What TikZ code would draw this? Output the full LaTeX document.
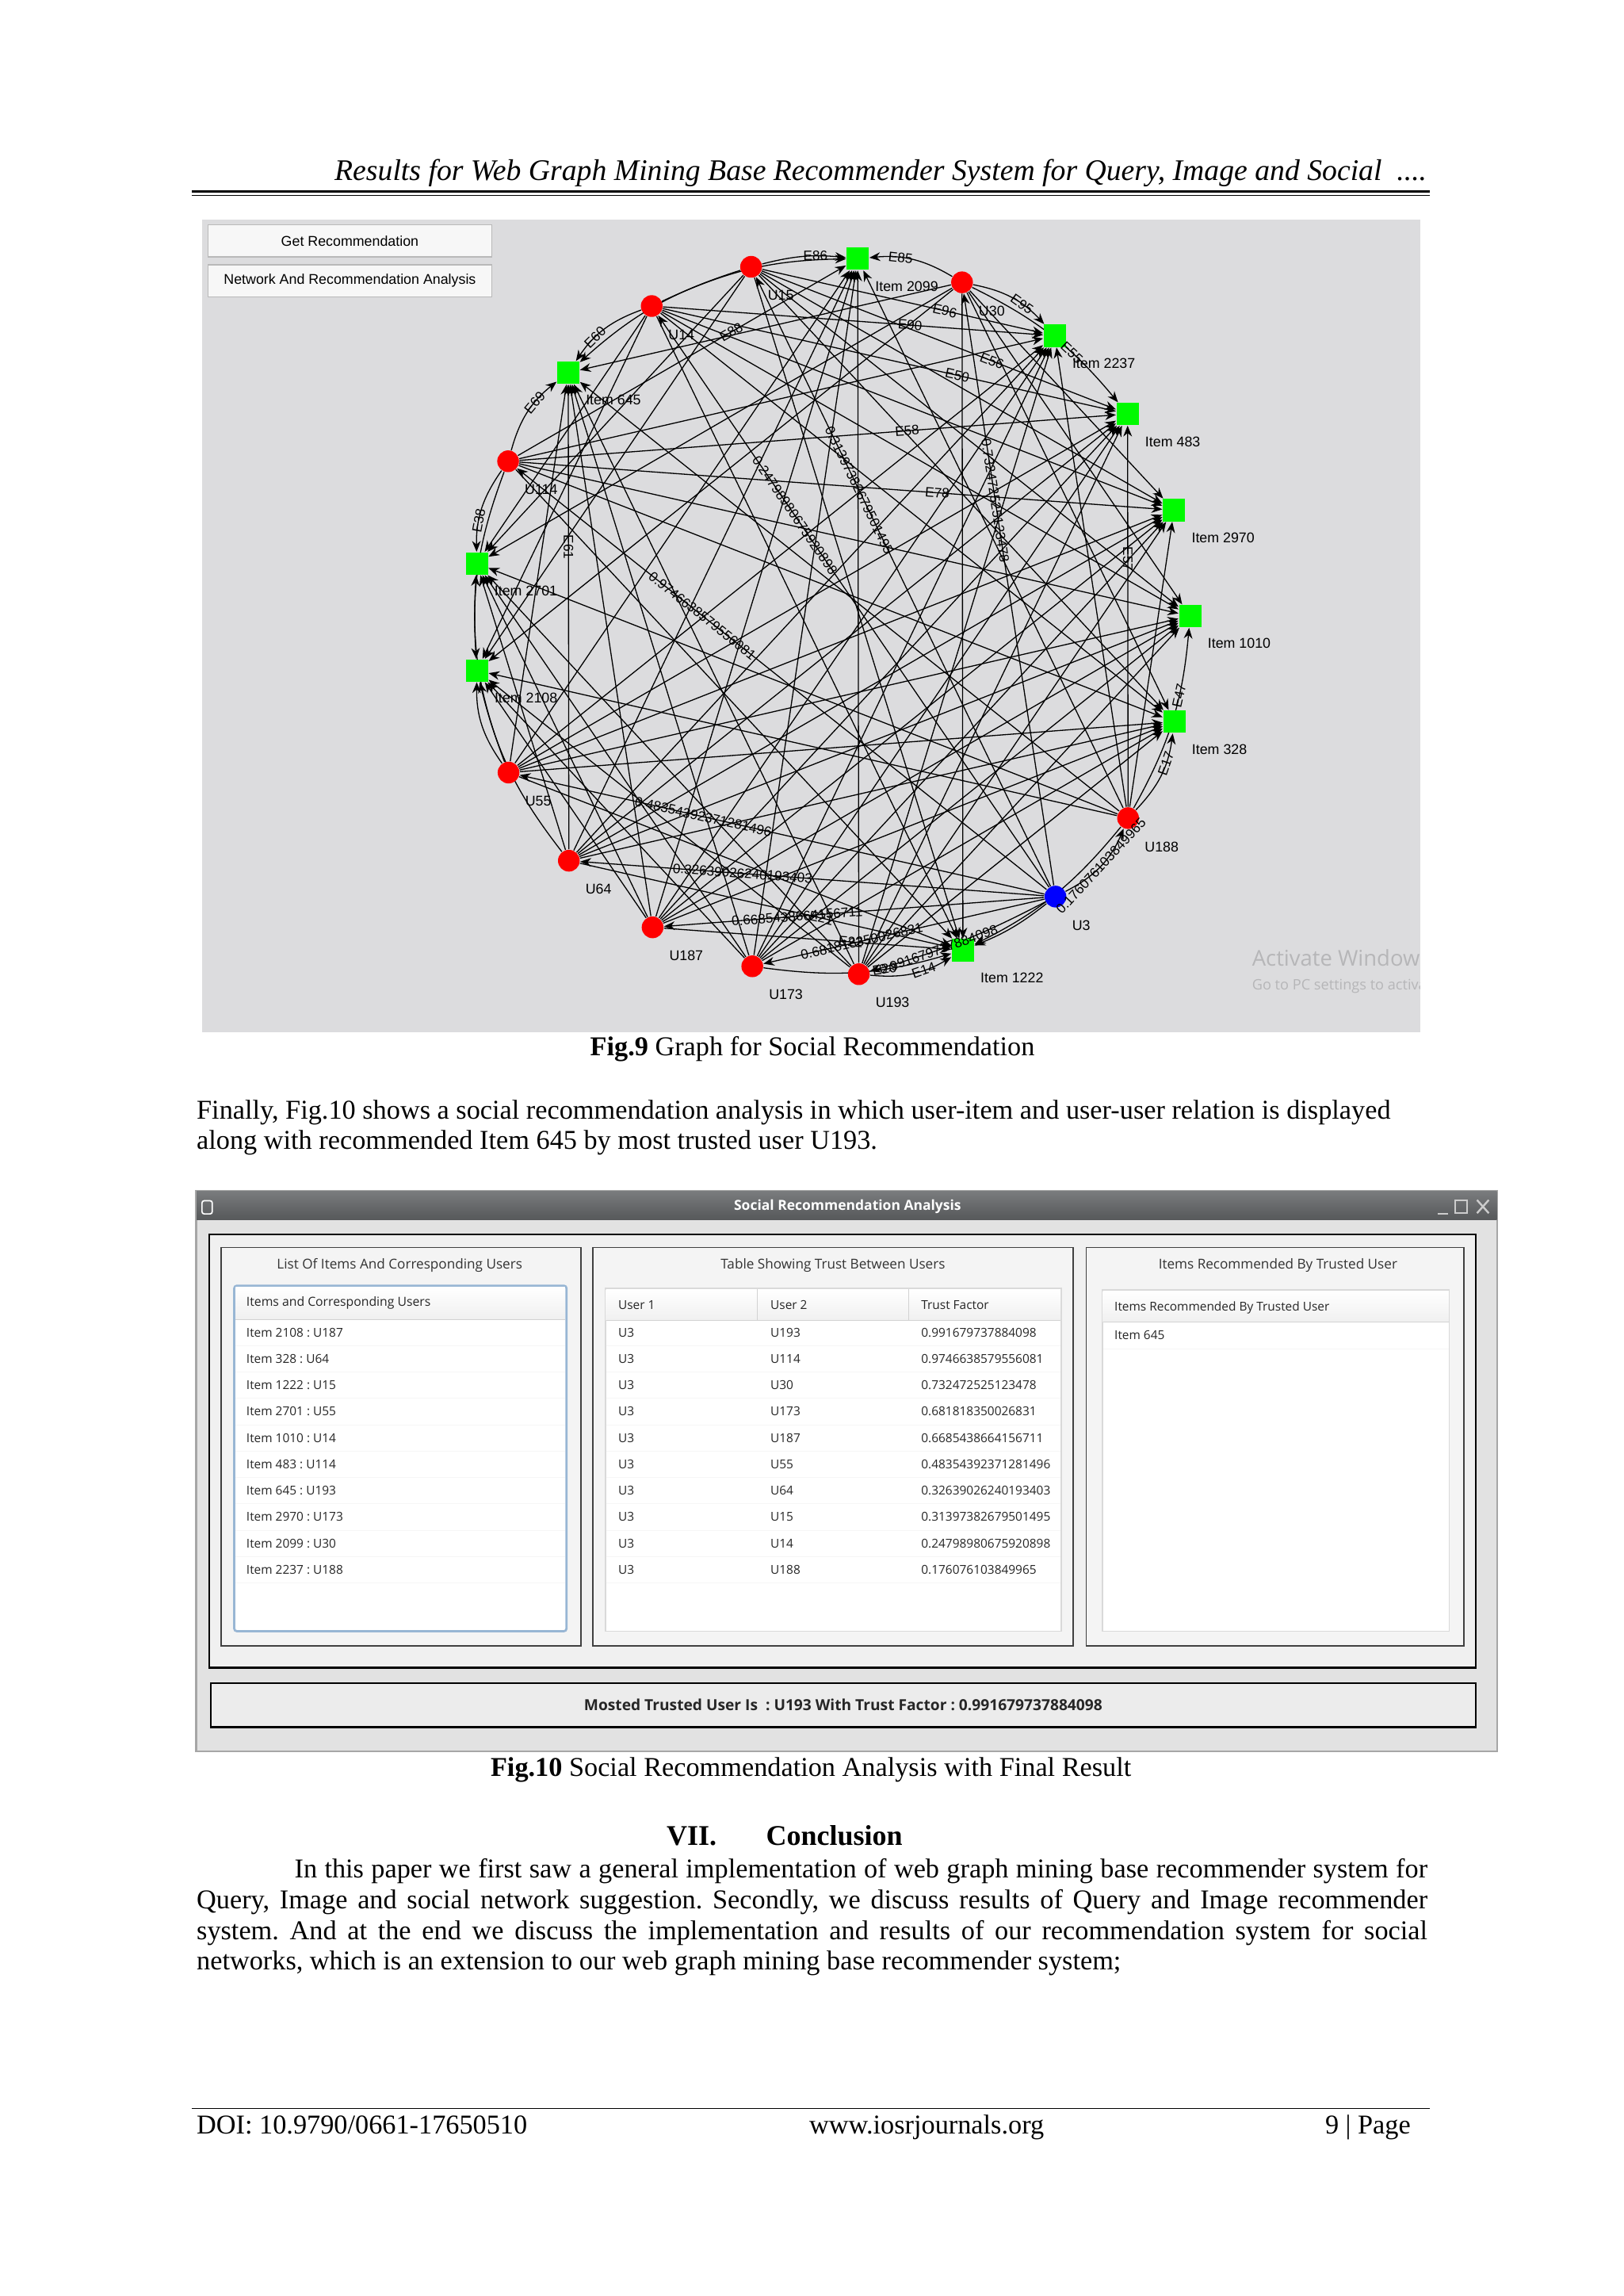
\documentclass[tikz,border=0pt]{standalone}
\usepackage{fontspec}
\setmainfont{Liberation Serif}
\newfontfamily\graphfont{Liberation Sans}
\newfontfamily\guifont{Open Sans}
\usepackage{tikz}
\usetikzlibrary{positioning,arrows.meta,backgrounds}
\usepackage{xcolor}
\definecolor{panelgray}{RGB}{220,220,222}
\definecolor{itemgreen}{RGB}{0,250,0}
\definecolor{titledark}{RGB}{86,88,90}
\definecolor{titlelight}{RGB}{122,124,126}
\definecolor{winbody}{RGB}{226,226,226}
\definecolor{listblue}{RGB}{152,182,212}
\definecolor{watermark}{RGB}{182,182,184}
\pgfdeclarelayer{edgelayer}
\pgfsetlayers{background,edgelayer,main}
\frenchspacing

\begin{document}
\begin{tikzpicture}[x=0.018936cm, y=-0.018936cm,
  user/.style={circle, fill=red, minimum size=8pt, inner sep=0pt,
               label distance=4.5pt},
  seed/.style={user, fill=blue},
  item/.style={rectangle, fill=itemgreen, minimum size=8.2pt, inner sep=0pt,
               label distance=3.5pt},
  nlab/.style={font=\graphfont\fontsize{5.2}{6}\selectfont, inner sep=0.5pt},
  ulab/.style={nlab, xshift=2.5pt, yshift=-5pt},
  ilab/.style={nlab, xshift=1.5pt, yshift=-3.3pt},
  elab/.style={font=\graphfont\fontsize{5}{6}\selectfont, inner sep=0.3pt,
               sloped, pos=0.65},
  link/.style={line width=0.38pt, -{Stealth[length=4pt,width=3.2pt]}},
  btn/.style={draw=gray!55, fill=gray!6, minimum width=104.5pt,
              minimum height=11.8pt, inner sep=0pt,
              font=\graphfont\fontsize{5.2}{6}\selectfont},
  body/.style={font=\fontsize{10}{11.3}\selectfont, inner sep=0pt},
  guihead/.style={font=\guifont\fontsize{5}{6}\selectfont, text=black!80,
                  inner sep=0pt},
  cell/.style={font=\guifont\fontsize{4.5}{5.5}\selectfont, text=black!85,
               anchor=west, inner sep=0pt},
  ]
  \useasboundingbox (0,0) rectangle (1109,1568);
  \begin{scope}[on background layer]
    \fill[white] (0,0) rectangle (1109,1568);
    \fill[panelgray] (138,150) rectangle (970,705);
  \end{scope}

  % running head
  \node[anchor=base east, font=\fontsize{11}{13}\selectfont\itshape, inner sep=0pt]
    (runhead) at (975,123)
    {Results for Web Graph Mining Base Recommender System for Query, Image and Social \ ....};
  \draw[line width=1pt] (131,130.6) -- (977,130.6);
  \draw[line width=0.35pt] (131,133.4) -- (977,133.4);

  % Fig.9 : graph window
  \node[btn] (getrec) at (239,164.4) {Get Recommendation};
  \node[btn] (netana) at (239,191.8) {Network And Recommendation Analysis};

  \node[item, label={[ilab]below right:Item 2099}] (i2099) at (585.9,176.7) {};
  \node[user, label={[ulab]below right:U30}]       (u30)   at (657.2,192.8) {};
  \node[item, label={[ilab]below right:Item 2237}] (i2237) at (720.5,229.3) {};
  \node[item, label={[ilab]below right:Item 483}]  (i483)  at (770.3,282.7) {};
  \node[item, label={[ilab]below right:Item 2970}] (i2970) at (802.0,348.4) {};
  \node[item, label={[ilab]below right:Item 1010}] (i1010) at (813.0,420.7) {};
  \node[item, label={[ilab]below right:Item 328}]  (i328)  at (802.2,492.9) {};
  \node[user, label={[ulab]below right:U188}]      (u188)  at (770.6,558.7) {};
  \node[seed, label={[ulab]below right:U3}]        (u3)    at (721.0,612.3) {};
  \node[item, label={[ilab]below right:Item 1222}] (i1222) at (657.8,648.9) {};
  \node[user, label={[ulab]below right:U193}]      (u193)  at (586.7,665.3) {};
  \node[user, label={[ulab]below right:U173}]      (u173)  at (513.9,659.9) {};
  \node[user, label={[ulab]below right:U187}]      (u187)  at (445.8,633.3) {};
  \node[user, label={[ulab]below right:U64}]       (u64)   at (388.6,587.8) {};
  \node[user, label={[ulab]below right:U55}]       (u55)   at (347.4,527.6) {};
  \node[item, label={[ilab]below right:Item 2108}] (i2108) at (325.8,457.9) {};
  \node[item, label={[ilab]below right:Item 2701}] (i2701) at (325.7,384.8) {};
  \node[user, label={[ulab]below right:U114}]      (u114)  at (347.1,315.0) {};
  \node[item, label={[ilab]below right:Item 645}]  (i645)  at (388.2,254.5) {};
  \node[user, label={[ulab]below right:U14}]       (u14)   at (445.2,209.0) {};
  \node[user, label={[ulab]below right:U15}]       (u15)   at (513.1,182.2) {};

  \begin{pgfonlayer}{edgelayer}
    % user -> item
    \foreach \i in {i2970,i1010,i328,i1222,i2108,i2701,i645} \draw[link] (u30) -- (\i);
    \draw[link] (u30) to[bend right=18] (i2099);
    \draw[link] (u30) to[bend left=18] (i2237);
    \draw[link] (u30) to[bend left=12] (i483);
    \foreach \i in {i2099,i2237,i483,i2970,i2108,i2701,i645} \draw[link] (u188) -- (\i);
    \draw[link] (u188) to[bend right=18] (i328);
    \draw[link] (u188) to[bend right=12] (i1010);
    \draw[link] (u188) to[bend left=12] (i1222);
    \foreach \i in {i2099,i2237,i483,i2970,i1010,i328,i2108,i2701,i645} \draw[link] (u193) -- (\i);
    \draw[link] (u193) to[bend right=18] (i1222);
    \foreach \i in {i2099,i2237,i483,i2970,i1010,i328,i2108,i2701,i645} \draw[link] (u173) -- (\i);
    \draw[link] (u173) to[bend right=12] (i1222);
    \foreach \i in {i2099,i2237,i483,i2970,i1010,i328,i1222,i2108,i2701,i645} \draw[link] (u187) -- (\i);
    \foreach \i in {i2099,i2237,i483,i2970,i1010,i328,i1222,i2701,i645} \draw[link] (u64) -- (\i);
    \draw[link] (u64) to[bend left=12] (i2108);
    \foreach \i in {i2099,i2237,i483,i2970,i1010,i328,i1222,i645} \draw[link] (u55) -- (\i);
    \draw[link] (u55) to[bend left=18] (i2108);
    \draw[link] (u55) to[bend left=12] (i2701);
    \foreach \i in {i2099,i2237,i483,i2970,i1010,i328,i1222} \draw[link] (u114) -- (\i);
    \draw[link] (u114) to[bend right=18] (i2701);
    \draw[link] (u114) to[bend left=18] (i645);
    \draw[link] (u114) to[bend right=12] (i2108);
    \foreach \i in {i2237,i483,i2970,i1010,i328,i1222,i2108,i2701} \draw[link] (u14) -- (\i);
    \draw[link] (u14) to[bend right=18] (i645);
    \draw[link] (u14) to[bend left=12] (i2099);
    \foreach \i in {i2237,i483,i2970,i1010,i328,i1222,i2108,i2701} \draw[link] (u15) -- (\i);
    \draw[link] (u15) to[bend left=10] (i2099);
    \draw[link] (u15) to[bend right=12] (i645);
    \draw[link] (u3) to[bend left=8] (i1222);
    % trust from U3
    \foreach \u in {u173,u187,u64,u55,u114,u14,u15,u30} \draw[link] (u3) -- (\u);
    \draw[link] (u3) to[bend right=20] (u188);
    \draw[link] (u3) to[bend left=6] (u193);
  \end{pgfonlayer}

  % edge labels
  \path (u30) to[bend right=18] node[elab] {E85} (i2099);
  \path (u15) to[bend left=10] node[elab] {E86} (i2099);
  \path (u30) to[bend left=18] node[elab] {E95} (i2237);
  \path (u30) to[bend left=12] node[elab] {E55} (i483);
  \path (u15) -- node[elab] {E96} (i2237);
  \path (u14) -- node[elab] {E90} (i2237);
  \path (u14) -- node[elab] {E50} (i483);
  \path (u15) -- node[elab] {E56} (i483);
  \path (u114) -- node[elab] {E58} (i483);
  \path (u114) -- node[elab] {E78} (i2970);
  \path (u114) -- node[elab] {E88} (i2099);
  \path (u114) to[bend left=18] node[elab] {E69} (i645);
  \path (u114) to[bend right=18] node[elab] {E38} (i2701);
  \path (u14) to[bend right=18] node[elab] {E60} (i645);
  \path (u64) -- node[elab] {E61} (i645);
  \path (u188) to[bend right=18] node[elab] {E17} (i328);
  \path (u188) to[bend right=12] node[elab] {E47} (i1010);
  \path (u188) -- node[elab] {E57} (i483);
  \path (u193) to[bend right=18] node[elab] {E14} (i1222);
  \path (u173) to[bend right=12] node[elab] {E20} (i1222);
  \path (u64) -- node[elab] {E21} (i1222);
  \path (u187) -- node[elab] {E22} (i1222);
  \path (u3) to[bend left=6] node[elab, pos=0.63] {0.991679737884098} (u193);
  \path (u3) -- node[elab] {0.9746638579556081} (u114);
  \path (u3) -- node[elab] {0.732472525123478} (u30);
  \path (u3) -- node[elab] {0.681818350026831} (u173);
  \path (u3) -- node[elab] {0.6685438664156711} (u187);
  \path (u3) -- node[elab] {0.48354392371281496} (u55);
  \path (u3) -- node[elab] {0.32639026240193403} (u64);
  \path (u3) -- node[elab] {0.31397382679501495} (u15);
  \path (u3) -- node[elab] {0.24798980675920898} (u14);
  \path (u3) to[bend right=20] node[elab, pos=0.5] {0.176076103849965} (u188);

  \begin{scope}
    \clip (138,150) rectangle (970,705);
    \node[anchor=base west, text=watermark, font=\guifont\fontsize{8}{9}\selectfont,
          inner sep=0pt] (actwin) at (855,660) {Activate Windows};
    \node[anchor=base west, text=watermark, font=\guifont\fontsize{5.3}{6}\selectfont,
          inner sep=0pt] (gopc) at (855,676) {Go to PC settings to activate Windows.};
  \end{scope}

  \node[body, anchor=base] (cap9) at (555,721) {\textbf{Fig.9} Graph for Social Recommendation};
  \node[body, anchor=base west] (para1) at (134,764)
    {Finally, Fig.10 shows a social recommendation analysis in which user-item and user-user relation is displayed};
  \node[body, anchor=base west] (para2) at (134,785)
    {along with recommended Item 645 by most trusted user U193.};

  % Fig.10 : analysis window
  \draw[gray!70, line width=0.6pt, fill=winbody] (134,813) rectangle (1023,1196);
  \shade[top color=titlelight, bottom color=titledark] (134.4,813.4) rectangle (1022.6,833);
  \node[font=\guifont\bfseries\fontsize{5.1}{6}\selectfont, text=white] (wintitle)
    at (579,824) {Social Recommendation Analysis};
  \draw[white, line width=0.5pt, rounded corners=0.8pt] (138,820) rectangle (145,829);
  \draw[white!80!black, line width=0.7pt] (982,829) -- (989,829);
  \draw[white!80!black, line width=0.6pt] (994,819.5) rectangle (1002,828.5);
  \draw[white!80!black, line width=0.7pt] (1009,819.5) -- (1017,828.5) (1009,828.5) -- (1017,819.5);

  \draw[line width=0.7pt, fill=gray!12] (143,843) rectangle (1008,1139);
  \draw[black!75, line width=0.5pt, fill=gray!9] (151,852) rectangle (397,1124);
  \draw[black!75, line width=0.5pt, fill=gray!9] (405,852) rectangle (733,1124);
  \draw[black!75, line width=0.5pt, fill=gray!9] (742,852) rectangle (1000,1124);
  \node[guihead] (ttlist) at (273,864) {List Of Items And Corresponding Users};
  \node[guihead] (tttrust) at (569,864) {Table Showing Trust Between Users};
  \node[guihead] (ttrec) at (873,864) {Items Recommended By Trusted User};

  % item list
  \draw[listblue, line width=0.8pt, fill=white, rounded corners=1pt] (160,878) rectangle (387,1114);
  \shade[top color=white, bottom color=gray!12] (161,879) rectangle (386,901);
  \draw[gray!35, line width=0.3pt] (161,901) -- (386,901);
  \node[cell, font=\guifont\fontsize{4.6}{5.5}\selectfont] (hitems) at (168,890) {Items and Corresponding Users};
  \foreach \txt [count=\r] in {Item 2108 : U187, Item 328 : U64, Item 1222 : U15,
      Item 2701 : U55, Item 1010 : U14, Item 483 : U114, Item 645 : U193,
      Item 2970 : U173, Item 2099 : U30, Item 2237 : U188} {
    \node[cell] (irow\r) at (168,{892+18*\r}) {\txt};
    \draw[gray!7, line width=0.3pt] (161,{901+18*\r}) -- (386,{901+18*\r});
  }

  % trust table
  \draw[gray!30, line width=0.5pt, fill=white] (413.5,880) rectangle (725,1114);
  \shade[top color=white, bottom color=gray!12] (414,880.5) rectangle (724.5,902);
  \draw[gray!35, line width=0.3pt] (414,902) -- (724.5,902) (517.3,880.5) -- (517.3,902)
    (621,880.5) -- (621,902);
  \node[cell] (huser1) at (422,891) {User 1};
  \node[cell] (huser2) at (526,891) {User 2};
  \node[cell] (htrust) at (629,891) {Trust Factor};
  \foreach \ua/\ub/\tf [count=\r] in {U3/U193/0.991679737884098, U3/U114/0.9746638579556081,
      U3/U30/0.732472525123478, U3/U173/0.681818350026831, U3/U187/0.6685438664156711,
      U3/U55/0.48354392371281496, U3/U64/0.32639026240193403, U3/U15/0.31397382679501495,
      U3/U14/0.24798980675920898, U3/U188/0.176076103849965} {
    \node[cell] (ta\r) at (422,{892+18*\r}) {\ua};
    \node[cell] (tb\r) at (526,{892+18*\r}) {\ub};
    \node[cell] (tc\r) at (629,{892+18*\r}) {\tf};
    \draw[gray!7, line width=0.3pt] (414,{901+18*\r}) -- (724.5,{901+18*\r});
  }

  % recommended list
  \draw[gray!30, line width=0.5pt, fill=white] (753,881) rectangle (990,1114);
  \shade[top color=white, bottom color=gray!12] (753.5,881.5) rectangle (989.5,903);
  \draw[gray!35, line width=0.3pt] (753.5,903) -- (989.5,903);
  \node[cell] (hrec) at (761,893) {Items Recommended By Trusted User};
  \node[cell] (rrow1) at (761,912) {Item 645};
  \draw[gray!7, line width=0.3pt] (753.5,921) -- (989.5,921);

  % result bar
  \draw[line width=0.7pt, fill=gray!15] (144,1149.6) rectangle (1008,1179.5);
  \node[font=\guifont\bfseries\fontsize{5.6}{6.5}\selectfont, text=black!85] (result)
    at (576,1164) {Mosted Trusted User Is\ \ : U193 With Trust Factor : 0.991679737884098};

  \node[body, anchor=base] (cap10) at (554,1213)
    {\textbf{Fig.10} Social Recommendation Analysis with Final Result};

  % conclusion
  \node[font=\fontsize{10.5}{12}\selectfont\bfseries, anchor=base west, inner sep=0pt]
    (secnum) at (455,1260) {VII.};
  \node[font=\fontsize{10.5}{12}\selectfont\bfseries, anchor=base west, inner sep=0pt]
    (sectitle) at (523,1260) {Conclusion};
  \node[body, anchor=north west, text width=453pt, align=justify] (concl) at (134,1269)
    {\hspace*{36pt}In this paper we first saw a general implementation of web graph mining base recommender system for\linebreak
     Query, Image and social network suggestion. Secondly, we discuss results of Query and Image recommender\linebreak
     system. And at the end we discuss the implementation and results of our recommendation system for social\linebreak
     networks, which is an extension to our web graph mining base recommender system;};

  % footer
  \draw[line width=0.4pt] (131,1440) -- (977,1440);
  \node[body, anchor=base west] (doi) at (134,1457) {DOI: 10.9790/0661-17650510};
  \node[body, anchor=base] (site) at (633,1457) {www.iosrjournals.org};
  \node[body, anchor=base east] (pageno) at (964,1457) {9 | Page};
\end{tikzpicture}
\end{document}
